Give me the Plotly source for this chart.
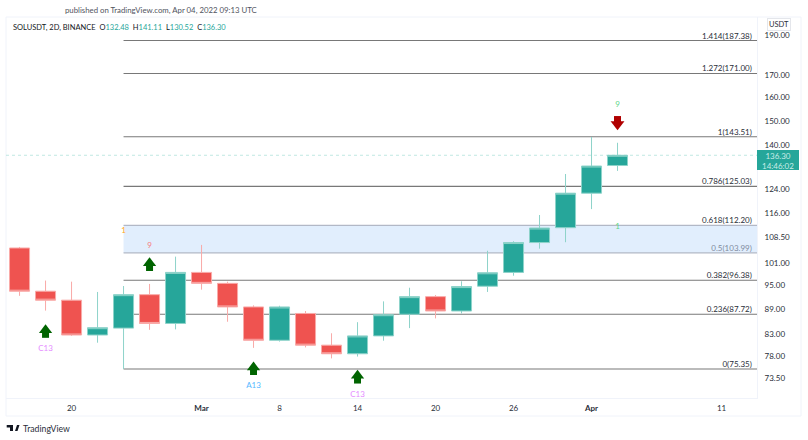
import plotly.graph_objects as go

W, H = 808, 440
TEAL = "#26a69a"
RED = "#ef5350"
FONT = "Lato"

dates = [
    "2022-02-16", "2022-02-18", "2022-02-20", "2022-02-22", "2022-02-24", "2022-02-26",
    "2022-02-28", "2022-03-02", "2022-03-04", "2022-03-06", "2022-03-08", "2022-03-10",
    "2022-03-12", "2022-03-14", "2022-03-16", "2022-03-18", "2022-03-20", "2022-03-22",
    "2022-03-24", "2022-03-26", "2022-03-28", "2022-03-30", "2022-04-01", "2022-04-03",
]
opens = [105.4, 93.5, 91.2, 82.8, 84.4, 92.6, 85.5, 98.5, 95.55, 89.5, 81.6, 87.9,
         80.5, 78.6, 82.6, 87.7, 92.1, 88.5, 94.8, 98.5, 107.0, 111.5, 122.7, 132.48]
highs = [105.7, 96.3, 96.0, 93.3, 94.85, 95.4, 102.9, 106.3, 96.0, 89.9, 89.8, 88.5,
         83.2, 85.8, 90.9, 94.4, 92.5, 96.1, 104.6, 107.4, 115.5, 129.4, 143.4, 141.11]
lows = [92.3, 88.6, 82.6, 81.05, 75.35, 84.0, 84.1, 93.9, 85.9, 79.9, 81.3, 80.0,
        77.6, 78.0, 81.5, 84.4, 86.7, 87.9, 93.3, 97.6, 105.2, 107.1, 117.4, 130.52]
closes = [93.5, 91.2, 82.8, 84.5, 92.6, 85.5, 98.5, 95.55, 89.5, 81.6, 89.5, 80.5,
          78.6, 82.6, 87.6, 92.1, 88.5, 94.7, 98.4, 107.0, 111.4, 122.7, 132.3, 136.30]

fib_ratios = ["1.414", "1.272", "1", "0.786", "0.618", "0.5", "0.382", "0.236", "0"]
fib_prices = [187.38, 171.00, 143.51, 125.03, 112.20, 103.99, 96.38, 87.72, 75.35]
fib_start = "2022-02-24"
fib_end = "2022-04-13 17:30"
fib_label_x = "2022-04-13 08:00"
x_start = "2022-02-14 23:00"

arrow_up_dates = ["2022-02-18", "2022-02-26", "2022-03-06", "2022-03-14"]
arrow_up_heads = [83.95, 101.1, 75.7, 74.0]
arrow_up_shafts = [82.96, 99.85, 74.83, 73.08]
arrow_down_dates = ["2022-04-03"]
arrow_down_heads = [148.5]
arrow_down_shafts = [150.5]

signal_dates = ["2022-02-18", "2022-03-06", "2022-03-14", "2022-02-26", "2022-04-03", "2022-04-03", "2022-02-24"]
signal_prices = [79.65, 71.9, 70.1, 106.0, 156.8, 111.7, 110.5]
signal_texts = ["C13", "A13", "C13", "9", "9", "1", "1"]
signal_colors = ["#e58bff", "#55b8ff", "#e58bff", "#f77c80", "#5fd68a", "#5fd68a", "#ffa726"]

price_ticks = [190, 170, 160, 150, 140, 124, 116, 108.5, 101, 95, 89, 83, 78, 73.5]
time_ticks = ["2022-02-20", "2022-03-02", "2022-03-08", "2022-03-14", "2022-03-20", "2022-03-26", "2022-04-01", "2022-04-11"]
time_labels = ["20", "<b>Mar</b>", "8", "14", "20", "26", "<b>Apr</b>", "11"]

symbol_text = "SOLUSDT, 2D, BINANCE"
last_price = 136.30
countdown = "14:46:02"


def fx(px):
    return px / W


def fy(py):
    return 1 - py / H


def paper_label(x, y, text, size=8, color="#131722", xanchor="left", pad=0, **kw):
    fig.add_annotation(
        x=fx(x), y=fy(y), xref="paper", yref="paper", text=text, showarrow=False,
        xanchor=xanchor, yanchor="middle", font={"size": size, "color": color, "family": FONT},
        borderpad=pad, **kw,
    )


fig = go.Figure()

# zone and levels go in as shapes, scatter traces would sit on top of the candles
fig.add_shape(type="rect", xref="x", yref="y", x0=fib_start, x1=fib_end, y0=fib_prices[5], y1=fib_prices[4],
              fillcolor="#e1eefd", line={"width": 0}, layer="below")
for ratio, price in zip(fib_ratios, fib_prices):
    in_zone = ratio in ("0.618", "0.5")
    fig.add_shape(type="line", xref="x", yref="y", x0=fib_start, x1=fib_end, y0=price, y1=price, layer="below",
                  line={"color": "#b2b8c6" if in_zone else "#787878", "width": 1.3 if in_zone else 1.1})

fig.add_shape(type="line", xref="x", yref="y", x0=x_start, x1=fib_end, y0=last_price, y1=last_price, layer="below",
              line={"color": "#a5dcd6", "width": 0.7, "dash": "dot"})

fig.add_trace(go.Candlestick(
    x=dates, open=opens, high=highs, low=lows, close=closes,
    increasing={"line": {"color": "#8ed3ca", "width": 1}, "fillcolor": TEAL},
    decreasing={"line": {"color": "#f9aaa8", "width": 1}, "fillcolor": RED},
    whiskerwidth=0,
))

fig.add_trace(go.Scatter(
    x=[fib_label_x] * len(fib_prices), y=fib_prices, mode="text",
    text=[f"{r}({p:.2f})" for r, p in zip(fib_ratios, fib_prices)],
    textposition="top left",
    textfont={"size": 8, "family": FONT,
              "color": ["#7f8b9e" if r == "0.5" else "#2a2e39" for r in fib_ratios]},
))

# block arrows, head and shaft
fig.add_trace(go.Scatter(x=arrow_up_dates, y=arrow_up_heads, mode="markers",
                         marker={"symbol": "triangle-up", "size": 11.5, "color": "#006400"}))
fig.add_trace(go.Scatter(x=arrow_up_dates, y=arrow_up_shafts, mode="markers",
                         marker={"symbol": "square", "size": 7, "color": "#006400"}))
fig.add_trace(go.Scatter(x=arrow_down_dates, y=arrow_down_heads, mode="markers",
                         marker={"symbol": "triangle-down", "size": 12, "color": "#b00000"}))
fig.add_trace(go.Scatter(x=arrow_down_dates, y=arrow_down_shafts, mode="markers",
                         marker={"symbol": "square", "size": 7, "color": "#b00000"}))

fig.add_trace(go.Scatter(
    x=signal_dates, y=signal_prices, mode="text", text=signal_texts,
    textposition="middle center", textfont={"size": 8, "color": signal_colors, "family": FONT},
))

# frame around the chart
fig.add_shape(type="rect", xref="paper", yref="paper", x0=fx(6), x1=fx(801), y0=fy(416), y1=fy(17),
              line={"color": "#f0f3fa", "width": 1}, layer="below")
# last price tag
fig.add_shape(type="rect", xref="paper", yref="paper", x0=fx(757), x1=fx(799), y0=fy(170), y1=fy(150),
              line={"width": 0}, fillcolor=TEAL)
# TradingView mark
fig.add_shape(type="path", xref="paper", yref="paper", fillcolor="#131722", line={"width": 0},
              path=f"M{fx(6.7)},{fy(425)} L{fx(13)},{fy(425)} L{fx(13)},{fy(431)} L{fx(10)},{fy(431)} "
                   f"L{fx(10)},{fy(427.5)} L{fx(6.7)},{fy(427.5)} Z "
                   f"M{fx(15)},{fy(431)} L{fx(17)},{fy(425)} L{fx(19.5)},{fy(425)} L{fx(17.5)},{fy(431)} Z")

paper_label(161, 10, "published on TradingView.com, Apr 04, 2022 09:13 UTC", size=7.8, color="#50535e", xanchor="center")
ohlc = "".join(
    f"&nbsp;&nbsp;{k}<span style='color:{TEAL}'>{v:.2f}</span>"
    for k, v in zip("OHLC", [opens[-1], highs[-1], lows[-1], closes[-1]])
)
paper_label(12, 28, symbol_text + ohlc, size=7.5)
paper_label(778, 160.5, f"{last_price:.2f}<br>{countdown}", size=8, color="#c8ece7", xanchor="center")
paper_label(779, 25, "USDT", size=7.5, color="#2a2e39", xanchor="center", pad=1,
            bgcolor="#ffffff", bordercolor="#e4e6eb", borderwidth=1)
paper_label(22, 428.5, "TradingView", size=8.7, color="#2a2e39")

fig.update_layout(
    width=W, height=H, margin={"l": 0, "r": 0, "t": 0, "b": 0},
    paper_bgcolor="white", plot_bgcolor="white", showlegend=False,
    font={"family": FONT, "size": 8, "color": "#131722"},
    boxgap=0.23, boxgroupgap=0,
    xaxis={
        "domain": [fx(6), fx(757)], "type": "date", "range": [x_start, fib_end],
        "rangeslider": {"visible": False}, "showgrid": False, "zeroline": False,
        "tickvals": time_ticks, "ticktext": time_labels, "tickangle": 0,
        "showline": True, "linecolor": "#f0f3fa", "ticks": "outside", "tickcolor": "rgba(0,0,0,0)", "ticklen": 2,
        "tickfont": {"size": 8, "color": "#2a2e39"},
    },
    yaxis={
        "domain": [fy(398), fy(17)], "type": "log", "side": "right",
        "range": [1.84217, 2.30103], "showgrid": False, "zeroline": False,
        "tickvals": price_ticks, "ticktext": [f"{t:.2f}" for t in price_ticks],
        "showline": True, "linecolor": "#f0f3fa", "ticks": "outside", "tickcolor": "rgba(0,0,0,0)", "ticklen": 5,
        "tickfont": {"size": 8, "color": "#2a2e39"},
    },
    hovermode=False,
)

fig.write_html("out.html", config={"displayModeBar": False}, post_script="document.body.style.margin='0';")
